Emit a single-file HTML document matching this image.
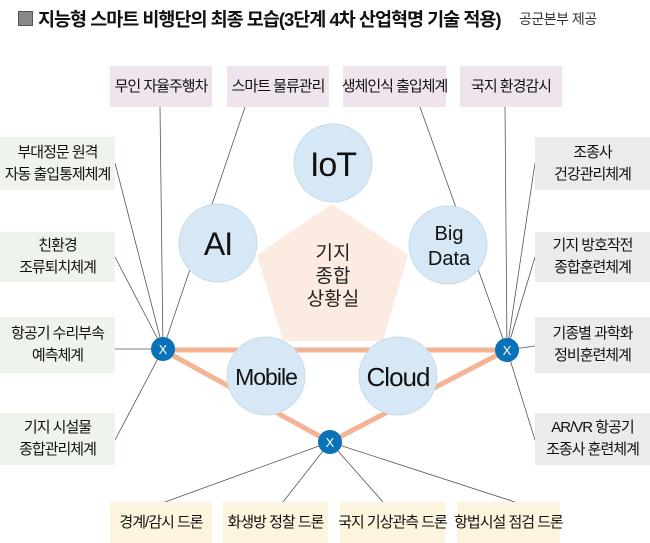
<!DOCTYPE html>
<html><head><meta charset="utf-8"><style>
body{margin:0;background:#fff;}
#c{position:relative;width:650px;height:543px;overflow:hidden;font-family:"Liberation Sans","Noto Sans CJK KR",sans-serif;color:#111;}
.b{position:absolute;display:flex;align-items:center;justify-content:center;text-align:center;font-size:15px;line-height:22px;letter-spacing:-1px;white-space:nowrap;}
.t{background:#efe4ee;top:66px;height:41px;}
.l{background:#eef3ec;left:0;width:115px;}
.r{background:#ebebeb;left:535px;width:115px;}
.d{background:#fcf4dc;top:502px;height:41px;}
</style></head><body><div id="c">
<svg width="650" height="543" style="position:absolute;left:0;top:0">
<g stroke="#555" stroke-width="0.8" fill="none">
<line x1="160" y1="107" x2="163" y2="349"/><line x1="245" y1="107" x2="163" y2="349"/>
<line x1="420" y1="107" x2="507" y2="350"/><line x1="505" y1="107" x2="507" y2="350"/>
<line x1="115" y1="163" x2="163" y2="349"/><line x1="115" y1="257" x2="163" y2="349"/>
<line x1="115" y1="349" x2="163" y2="349"/><line x1="115" y1="440" x2="163" y2="349"/>
<line x1="535" y1="163" x2="507" y2="350"/><line x1="535" y1="257" x2="507" y2="350"/>
<line x1="535" y1="346" x2="507" y2="350"/><line x1="535" y1="440" x2="507" y2="350"/>
<line x1="165" y1="502" x2="330" y2="442"/><line x1="283" y1="502" x2="330" y2="442"/>
<line x1="383" y1="502" x2="330" y2="442"/><line x1="515" y1="502" x2="330" y2="442"/>
</g>
<polygon points="332,204 408,255 383,341 283,341 257,255" fill="#fcebe0"/>
<g stroke="#f4b395" stroke-width="5"><line x1="163" y1="350" x2="507" y2="350"/><line x1="163" y1="350" x2="330" y2="442"/><line x1="507" y1="350" x2="330" y2="442"/></g>
<g fill="#d6e8f6" stroke="#c9dcea" stroke-width="1">
<circle cx="333" cy="163" r="39"/><circle cx="218" cy="243" r="39"/><circle cx="448" cy="245" r="39"/>
<circle cx="266" cy="376" r="39"/><circle cx="398" cy="376" r="39"/></g>
<g fill="#0a72b8"><circle cx="163" cy="349" r="12"/><circle cx="507" cy="350" r="12"/><circle cx="330" cy="442" r="12"/></g>
<g fill="#fff" font-size="13" text-anchor="middle" font-family="Liberation Sans,sans-serif"><text x="163" y="354">X</text><text x="507" y="355">X</text><text x="330" y="447">X</text></g>
<g fill="#111" text-anchor="middle" font-family="Liberation Sans,sans-serif" letter-spacing="-1">
<text x="333" y="176" font-size="34">IoT</text><text x="218" y="255" font-size="32">AI</text>
<text x="449" y="240" font-size="20" letter-spacing="0">Big</text><text x="449" y="265" font-size="20" letter-spacing="0">Data</text>
<text x="266" y="385" font-size="23">Mobile</text><text x="398" y="386" font-size="26">Cloud</text></g>
<g fill="#222" text-anchor="middle" font-size="19" font-family="Liberation Sans,Noto Sans CJK KR,sans-serif">
<text x="333" y="259">기지</text><text x="333" y="282">종합</text><text x="333" y="305">상황실</text></g>
</svg>
<div style="position:absolute;left:18px;top:6px;font-size:18.5px;font-weight:bold;letter-spacing:-1px;white-space:nowrap"><span style="display:inline-block;width:13px;height:13px;background:#888;border:1px solid #555;margin-right:5px"></span>지능형 스마트 비행단의 최종 모습(3단계 4차 산업혁명 기술 적용)</div>
<div style="position:absolute;left:519px;top:9px;font-size:14px;color:#333;white-space:nowrap;letter-spacing:-0.5px">공군본부 제공</div>
<div class="b t" style="left:110px;width:102px">무인 자율주행차</div>
<div class="b t" style="left:227px;width:102px">스마트 물류관리</div>
<div class="b t" style="left:343px;width:103px">생체인식 출입체계</div>
<div class="b t" style="left:460px;width:102px">국지 환경감시</div>
<div class="b l" style="top:137px;height:53px">부대정문 원격<br>자동 출입통제체계</div>
<div class="b l" style="top:232px;height:50px">친환경<br>조류퇴치체계</div>
<div class="b l" style="top:317px;height:56px">항공기 수리부속<br>예측체계</div>
<div class="b l" style="top:413px;height:52px">기지 시설물<br>종합관리체계</div>
<div class="b r" style="top:137px;height:53px">조종사<br>건강관리체계</div>
<div class="b r" style="top:232px;height:50px">기지 방호작전<br>종합훈련체계</div>
<div class="b r" style="top:317px;height:56px">기종별 과학화<br>정비훈련체계</div>
<div class="b r" style="top:413px;height:52px">AR/VR 항공기<br>조종사 훈련체계</div>
<div class="b d" style="left:110px;width:102px">경계/감시 드론</div>
<div class="b d" style="left:223px;width:105px">화생방 정찰 드론</div>
<div class="b d" style="left:340px;width:105px">국지 기상관측 드론</div>
<div class="b d" style="left:457px;width:103px">항법시설 점검 드론</div>
</div></body></html>
